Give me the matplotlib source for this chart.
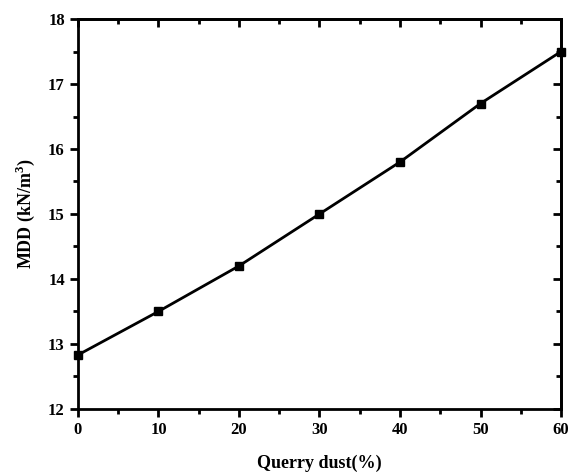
import matplotlib.pyplot as plt
from matplotlib.ticker import MultipleLocator

# Data
quarry_dust = [0, 10, 20, 30, 40, 50, 60]
mdd = [12.83, 13.5, 14.2, 15.0, 15.8, 16.7, 17.5]

plt.rcParams["font.family"] = ["Liberation Serif", "DejaVu Serif"]
plt.rcParams["font.weight"] = "bold"
plt.rcParams["mathtext.fontset"] = "custom"
plt.rcParams["mathtext.rm"] = "Liberation Serif:bold"
plt.rcParams["mathtext.bf"] = "Liberation Serif:bold"

fig = plt.figure(figsize=(5.69, 4.76), dpi=100)
ax = fig.add_axes([0.137, 0.141, 0.849, 0.819])

ax.plot(quarry_dust, mdd, color="black", linewidth=2, marker="s",
        markersize=6, clip_on=False)

ax.set_xlim(0, 60)
ax.set_ylim(12, 18)
ax.xaxis.set_major_locator(MultipleLocator(10))
ax.xaxis.set_minor_locator(MultipleLocator(5))
ax.yaxis.set_major_locator(MultipleLocator(1))
ax.yaxis.set_minor_locator(MultipleLocator(0.5))

for sp in ax.spines.values():
    sp.set_linewidth(2)

ax.tick_params(which="both", bottom=True, left=True, top=False, right=False,
               direction="out", width=2, labelsize=12)
ax.tick_params(which="major", length=6)
ax.tick_params(which="minor", length=3.5)

# inward ticks on top and right
ax_top = ax.secondary_xaxis("top")
ax_top.xaxis.set_major_locator(MultipleLocator(10))
ax_top.xaxis.set_minor_locator(MultipleLocator(5))
ax_top.tick_params(which="both", direction="in", width=2, labeltop=False)
ax_top.tick_params(which="major", length=6)
ax_top.tick_params(which="minor", length=3.5)
ax_top.spines["top"].set_linewidth(2)

ax_right = ax.secondary_yaxis("right")
ax_right.yaxis.set_major_locator(MultipleLocator(1))
ax_right.yaxis.set_minor_locator(MultipleLocator(0.5))
ax_right.tick_params(which="both", direction="in", width=2, labelright=False)
ax_right.tick_params(which="major", length=6)
ax_right.tick_params(which="minor", length=3.5)
ax_right.spines["right"].set_linewidth(2)

for lab in ax.get_xticklabels() + ax.get_yticklabels():
    lab.set_fontweight("bold")

ax.set_xlabel("Querry dust(%)", fontsize=13, fontweight="bold", labelpad=12)
ax.set_ylabel("MDD (kN/m$^{3}$)", fontsize=13, fontweight="bold",
              labelpad=8)

fig.savefig("out.png", dpi=100)
